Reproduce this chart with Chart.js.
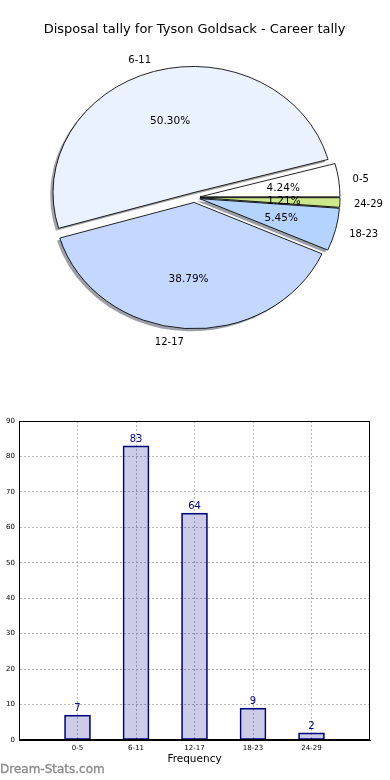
<!DOCTYPE html>
<html>
<head>
<meta charset="utf-8">
<script src="https://cdn.jsdelivr.net/npm/chart.js@4/dist/chart.umd.min.js"></script>
<style>
  html, body { margin: 0; padding: 0; background: #fff; }
  #wrap { position: relative; width: 390px; height: 780px; overflow: hidden; }
  #pie { position: absolute; left: 0; top: 0; }
  #bar { position: absolute; left: 0; top: 390px; }
</style>
</head>
<body>
<div id="wrap">
  <canvas id="pie" width="390" height="390"></canvas>
  <canvas id="bar" width="390" height="390"></canvas>
</div>
<script>
// ---- data ----
const chartTitle = 'Disposal tally for Tyson Goldsack - Career tally';
const categories = ['0-5', '6-11', '12-17', '18-23', '24-29'];
const tallies = [7, 83, 64, 9, 2];
const sliceColors = ['#ffffff', '#eaf1ff', '#c4d8ff', '#b4d4ff', '#cde88a'];
const yTickValues = [0, 10, 20, 30, 40, 50, 60, 70, 80, 90];
const xAxisTitle = 'Frequency';
const watermark = 'Dream-Stats.com';

const FONT = "'DejaVu Sans', 'Liberation Sans', sans-serif";
Chart.defaults.font.family = FONT;
Chart.defaults.color = '#000';

// ---- pie (elliptical, exploded, with shadow like the original) ----
const total = tallies.reduce((a, b) => a + b, 0);
// Chart.js draws clockwise; reverse so order runs counter-clockwise from east
const pieLabels = categories.slice().reverse();
const pieValues = tallies.slice().reverse();
const pieColors = sliceColors.slice().reverse();

const ASPECT = 0.902;   // vertical squash of the pie
const EXPLODE = 5.5;    // px every wedge is pushed out
const SHADOW = 2.8;     // px shadow offset

function shadowOf(hex) {
  const n = parseInt(hex.slice(1), 16);
  const r = ((n >> 16) & 255) * 0.3, g = ((n >> 8) & 255) * 0.3, b = (n & 255) * 0.3;
  return `rgba(${r | 0},${g | 0},${b | 0},0.5)`;
}

const ellipsePie = {
  id: 'ellipsePie',
  beforeDatasetsDraw(chart) {
    const meta = chart.getDatasetMeta(0);
    const ctx = chart.ctx;
    const cy = meta.data[0].y;
    ctx.save();
    ctx.translate(0, cy); ctx.scale(1, ASPECT); ctx.translate(0, -cy);
    meta.data.forEach((arc, i) => {
      const mid = (arc.startAngle + arc.endAngle) / 2;
      ctx.save();
      ctx.translate(Math.cos(mid) * EXPLODE - SHADOW, Math.sin(mid) * EXPLODE + SHADOW);
      ctx.beginPath();
      ctx.moveTo(arc.x, arc.y);
      ctx.arc(arc.x, arc.y, arc.outerRadius, arc.startAngle, arc.endAngle);
      ctx.closePath();
      ctx.fillStyle = shadowOf(pieColors[i]);
      ctx.fill();
      ctx.restore();
    });
    meta.data.forEach((arc) => {
      const mid = (arc.startAngle + arc.endAngle) / 2;
      ctx.save();
      ctx.translate(Math.cos(mid) * EXPLODE, Math.sin(mid) * EXPLODE);
      arc.draw(ctx);
      ctx.restore();
    });
    ctx.restore();
    return false;
  },
  afterDraw(chart) {
    const meta = chart.getDatasetMeta(0);
    const ctx = chart.ctx;
    ctx.save();
    ctx.fillStyle = '#000';
    ctx.textBaseline = 'middle';
    meta.data.forEach((arc, i) => {
      const mid = (arc.startAngle + arc.endAngle) / 2;
      const c = Math.cos(mid), s = Math.sin(mid);
      const r = arc.outerRadius;
      // category label
      let d = 1.1 * r + EXPLODE;
      ctx.font = `10px ${FONT}`;
      ctx.textAlign = c >= 0 ? 'left' : 'right';
      ctx.fillText(pieLabels[i], arc.x + d * c, arc.y + d * s * ASPECT + 1.5);
      // percentage
      d = 0.6 * r + EXPLODE;
      ctx.font = `10.5px ${FONT}`;
      ctx.textAlign = 'center';
      const pct = (pieValues[i] / total * 100).toFixed(2) + '%';
      ctx.fillText(pct, arc.x + d * c, arc.y + d * s * ASPECT + 1);
    });
    ctx.restore();
  }
};

new Chart(document.getElementById('pie'), {
  type: 'pie',
  data: {
    labels: pieLabels,
    datasets: [{
      data: pieValues,
      backgroundColor: pieColors,
      borderColor: '#000',
      borderWidth: 0.9
    }]
  },
  options: {
    responsive: false,
    animation: false,
    rotation: 90,
    radius: 140,
    layout: { padding: { left: 0, right: 1, top: 0, bottom: 32.6 } },
    events: [],
    plugins: {
      legend: { display: false },
      tooltip: { enabled: false },
      title: {
        display: true,
        text: chartTitle,
        color: '#000',
        font: { family: FONT, size: 13, weight: 'normal' },
        padding: { top: 22, bottom: 0 }
      }
    }
  },
  plugins: [ellipsePie]
});

// ---- bar chart ----
const barDecor = {
  id: 'barDecor',
  afterDatasetsDraw(chart) {
    const ctx = chart.ctx;
    const a = chart.chartArea;
    const meta = chart.getDatasetMeta(0);
    ctx.save();
    ctx.strokeStyle = '#000';
    ctx.lineWidth = 1;
    ctx.strokeRect(Math.round(a.left) + 0.5, Math.round(a.top) + 0.5,
                   Math.round(a.right - a.left) - 1, Math.round(a.bottom - a.top) - 1);
    ctx.fillStyle = '#000080';
    ctx.font = `10px ${FONT}`;
    ctx.textAlign = 'center';
    ctx.textBaseline = 'bottom';
    meta.data.forEach((bar, i) => {
      ctx.fillText(String(tallies[i]), bar.x, bar.y - 1.5);
    });
    ctx.restore();
  },
  afterDraw(chart) {
    const ctx = chart.ctx;
    ctx.save();
    ctx.fillStyle = '#8c8c8c';
    ctx.strokeStyle = '#8c8c8c';
    ctx.lineWidth = 0.35;
    ctx.font = `12px ${FONT}`;
    ctx.textAlign = 'left';
    ctx.textBaseline = 'middle';
    ctx.fillText(watermark, 0, chart.height - 10);
    ctx.strokeText(watermark, 0, chart.height - 10);
    ctx.restore();
  }
};

new Chart(document.getElementById('bar'), {
  type: 'bar',
  data: {
    datasets: [{
      data: categories.map((c, i) => ({ x: i, y: tallies[i] })),
      backgroundColor: 'rgba(0,0,128,0.2)',
      borderColor: '#000080',
      borderWidth: 1,
      borderSkipped: false,
      barThickness: 26
    }]
  },
  options: {
    responsive: false,
    animation: false,
    events: [],
    layout: { padding: { left: 0, right: 20, top: 31, bottom: 0 } },
    plugins: { legend: { display: false }, tooltip: { enabled: false } },
    scales: {
      x: {
        type: 'linear',
        offset: false,
        min: -1, max: categories.length,
        afterBuildTicks: (s) => { s.ticks = [-1, 0, 1, 2, 3, 4, 5].map(v => ({ value: v })); },
        afterFit: (s) => { s.height = 40; },
        ticks: {
          autoSkip: false, maxRotation: 0, padding: 4,
          font: { family: FONT, size: 7 }, color: '#000',
          callback: (v) => (categories[v] !== undefined ? categories[v] : '')
        },
        grid: {
          offset: false,
          drawTicks: false,
          lineWidth: 1,
          color: (ctx) => (ctx.tick && ctx.tick.value >= 0 && ctx.tick.value < categories.length) ? '#b8b8b8' : 'rgba(0,0,0,0)'
        },
        border: { display: true, color: '#000', width: 1, dash: [2, 2] },
        title: {
          display: true, text: xAxisTitle, color: '#000',
          font: { family: FONT, size: 10.5 },
          padding: { top: 0, bottom: 14 }
        }
      },
      y: {
        min: 0, max: 90,
        afterBuildTicks: (s) => { s.ticks = yTickValues.map(v => ({ value: v })); },
        afterFit: (s) => { s.width = 19; },
        ticks: { padding: 4, font: { family: FONT, size: 7 }, color: '#000' },
        grid: {
          drawTicks: false,
          lineWidth: 1,
          color: (ctx) => (ctx.tick && ctx.tick.value > 0 && ctx.tick.value < 90) ? '#b8b8b8' : 'rgba(0,0,0,0)'
        },
        border: { display: true, color: '#000', width: 1, dash: [2, 2] }
      }
    }
  },
  plugins: [barDecor]
});
</script>
</body>
</html>
